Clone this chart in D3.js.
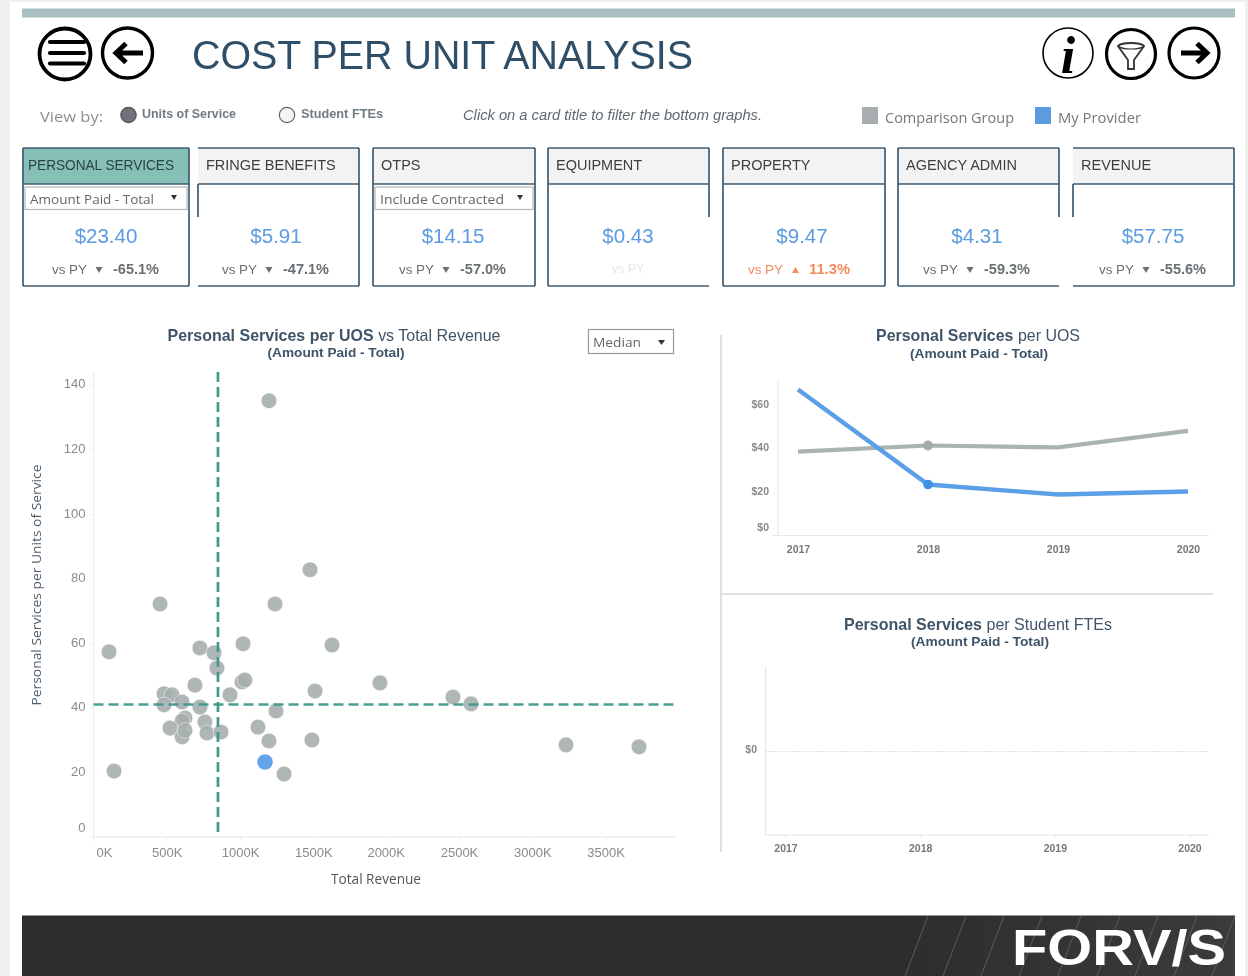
<!DOCTYPE html>
<html><head><meta charset="utf-8">
<script src="https://cdn.jsdelivr.net/npm/d3@7"></script>
<style>
html,body{margin:0;padding:0;background:#fff;overflow:hidden}
svg{display:block;filter:blur(0.4px)}
text{font-family:"Liberation Sans",Arial,sans-serif}
.axis path{display:none}
</style></head><body>
<svg id="c" width="1248" height="976"></svg>
<script>
const cardNames=["PERSONAL SERVICES","FRINGE BENEFITS","OTPS","EQUIPMENT","PROPERTY","AGENCY ADMIN","REVENUE"];
const cardValues=["$23.40","$5.91","$14.15","$0.43","$9.47","$4.31","$57.75"];
const cardChanges=[-65.1,-47.1,-57.0,null,11.3,-59.3,-55.6];
const cardFilters=["Amount Paid - Total",null,"Include Contracted",null,null,null,null];

const scatterRevenue=[1197,1477,1238,454,106,726,822,842,1020,1627,692,481,535,604,481,726,624,604,522,604,624,760,774,870,931,1013,1033,1511,1954,2452,2575,1245,1122,1197,1490,3223,3721,140,1300];
const scatterCost=[135,82.7,72.1,72.1,57.3,58.5,57,52.3,59.8,59.4,47,44.3,44,41.8,40.9,40.2,36.8,35.9,33.7,31,33,35.6,32.2,32.5,44,48,48.6,45.2,47.7,43.3,41.2,39,34,29.7,30,28.5,27.9,20.4,19.5];
const myRevenue=1170, myCost=23.2;
const medianRevenue=849, medianCost=41;
const revenueTicks=[0,500,1000,1500,2000,2500,3000,3500];
const costTicks=[0,20,40,60,80,100,120,140];

const years=[2017,2018,2019,2020];
const uosProvider=[67,23.4,18.8,20.2];
const uosGroup=[38.5,41.3,40.4,48];
const uosTicks=[0,20,40,60];

const navy="#2f4f68", border="#3f5b72", blue="#5b9be0", teal="#3f9a8c", tick="#8a8a8a", heading="#3f5468";
const svg=d3.select("#c");

// page frame
svg.append("rect").attr("width",1248).attr("height",976).attr("fill","#eef0f0");
svg.append("rect").attr("x",10).attr("y",2).attr("width",1235).attr("height",974).attr("fill","#fff");
svg.append("rect").attr("x",22).attr("y",8.5).attr("width",1213).attr("height",9).attr("fill","#a9bfc1");

const T=(g,x,y,s,o={})=>g.append("text").attr("x",x).attr("y",y).text(s)
  .attr("font-size",o.size||12).attr("fill",o.fill||"#555").attr("text-anchor",o.anchor||"start")
  .attr("font-weight",o.weight||null).attr("font-style",o.italic?"italic":null)
  .style("font-family",o.family||null);

T(svg,192,68.5,"COST PER UNIT ANALYSIS",{size:41,fill:navy}).attr("textLength",501);

// icons
function ring(x,y,r,w){svg.append("circle").attr("cx",x).attr("cy",y).attr("r",r).attr("fill","#fff").attr("stroke","#000").attr("stroke-width",w);}
ring(65,54,25.5,3.8);
[42,53,63.5].forEach(y=>svg.append("line").attr("x1",50).attr("x2",84).attr("y1",y).attr("y2",y).attr("stroke","#000").attr("stroke-width",4.2).attr("stroke-linecap","round"));
ring(127.5,53,25,3.4);
svg.append("path").attr("d","M143 53H116M126 43.5L116 53L126 62.5").attr("fill","none").attr("stroke","#000").attr("stroke-width",5);
ring(1068,53,25,1.6);
T(svg,1068,73,"i",{size:52,anchor:"middle",fill:"#000",weight:"bold",italic:true,family:"'Liberation Serif',serif"});
ring(1131,54,24.5,3.2);
svg.append("path").attr("d","M1118 46C1122 42 1140 42 1144 46L1134 60V69H1128V60Z").attr("fill","none").attr("stroke","#333").attr("stroke-width",1.8);
svg.append("path").attr("d","M1118 46C1122 50 1140 50 1144 46").attr("fill","none").attr("stroke","#333").attr("stroke-width",1.2);
ring(1194,53,25,3.2);
svg.append("path").attr("d","M1181 53H1207M1197 43.5L1207 53L1197 62.5").attr("fill","none").attr("stroke","#000").attr("stroke-width",5);

// view by row
T(svg,40,122,"View by:",{size:14.5,fill:"#8a8f92",family:"'Open Sans',sans-serif"}).attr("textLength",63);
svg.append("circle").attr("cx",128.5).attr("cy",115).attr("r",7.7).attr("fill","#6f7278").attr("stroke","#555").attr("stroke-width",1.2);
T(svg,142,118,"Units of Service",{size:12.5,fill:"#6f7c84",weight:"bold"}).attr("textLength",94);
svg.append("circle").attr("cx",287).attr("cy",115).attr("r",7.7).attr("fill","#f4f4f4").attr("stroke","#666").attr("stroke-width",1.2);
T(svg,301,118,"Student FTEs",{size:12.5,fill:"#6f7c84",weight:"bold"}).attr("textLength",82);
T(svg,463,120,"Click on a card title to filter the bottom graphs.",{size:14.2,fill:"#5f6a70",italic:true}).attr("textLength",299);
svg.append("rect").attr("x",862).attr("y",107).attr("width",16).attr("height",17).attr("fill","#a8adaf");
T(svg,885,123,"Comparison Group",{size:14,fill:"#777",family:"'Open Sans',sans-serif"}).attr("textLength",129);
svg.append("rect").attr("x",1035).attr("y",107).attr("width",16).attr("height",17).attr("fill","#5b9be0");
T(svg,1058,123,"My Provider",{size:14,fill:"#777",family:"'Open Sans',sans-serif"}).attr("textLength",83);

// cards
const cardLeft=[23,198,373,548,723,898,1073], cardRight=[189,359,535,709,885,1059,1234];
const cardCenter=[106,276,453,628,802,977,1153];
const cardEdges=[["full","full"],["none","full"],["full","full"],["full","short"],["full","full"],["full","short"],["none","full"]];
const cTop=148,head=184,bot=286,shortY=217;
cardNames.forEach((n,i)=>{
  const g=svg.append("g"),l=cardLeft[i],r=cardRight[i],ax=cardCenter[i];
  g.append("rect").attr("x",l).attr("y",cTop).attr("width",r-l).attr("height",head-cTop).attr("fill",i==0?"#85bfb5":"#f3f3f3");
  const ln=(a,b,c,d)=>g.append("line").attr("x1",a).attr("y1",b).attr("x2",c).attr("y2",d).attr("stroke",border).attr("stroke-width",1.7);
  ln(l,cTop,r,cTop);ln(l,head,r,head);ln(l,bot,r,bot);
  if(cardEdges[i][0]=="full")ln(l,cTop,l,bot);else ln(l,head,l,shortY);
  if(cardEdges[i][1]=="full")ln(r,cTop,r,bot);else ln(r,cTop,r,shortY);
  T(g,l+(i==0?5:8),170,n,{size:i==0?14:14.5,fill:i==0?"#2a4446":"#3f3f3f"}).attr("textLength",i==0?146:null);
  if(cardFilters[i]){
    g.append("rect").attr("x",l+2).attr("y",187).attr("width",r-l-4).attr("height",22.5).attr("fill","#fff").attr("stroke","#b5b5b5").attr("stroke-width",1.2);
    T(g,l+7,204,cardFilters[i],{size:13.5,fill:"#666",family:"'Open Sans',sans-serif"}).attr("textLength",124);
    g.append("path").attr("d",`M${r-18} 195h6l-3 5z`).attr("fill","#333");
  }
  T(g,ax,243,cardValues[i],{size:20.5,fill:blue,anchor:"middle"});
  const c=cardChanges[i],col=c==null?"#e4e8ea":c>0?"#f58a5e":"#6a7073";
  if(c==null){T(g,ax,273,"vs PY",{size:12.5,fill:col,anchor:"middle"});}
  else{
    T(g,ax-54,274,"vs PY",{size:13,fill:col}).attr("textLength",35);
    const up=c>0,tx=ax-7;
    g.append("path").attr("d",up?`M${tx-3} 273h7l-3.5 -6z`:`M${tx-3.5} 267h7l-3.5 6z`).attr("fill",col);
    T(g,ax+7,274,c.toFixed(1)+"%",{size:14,fill:col,weight:"bold"}).attr("textLength",up?41:46);
  }
});

// mixed-weight chart headings
function heading2(g,x,y,parts,len){
  const t=g.append("text").attr("x",x).attr("y",y).attr("text-anchor","middle").attr("font-size",16.5).attr("fill",heading).attr("textLength",len);
  parts.forEach(p=>t.append("tspan").attr("font-weight",p[1]?"bold":"normal").text(p[0]));
  return t;
}

// scatter
const sx=d3.scaleLinear().domain([0,3970]).range([93.5,675.5]);
const sy=d3.scaleLinear().domain([0,143.6]).range([837,373]);
const sc=svg.append("g");
heading2(sc,334,341,[["Personal Services per UOS ",1],["vs Total Revenue",0]],333);
T(sc,336,356.5,"(Amount Paid - Total)",{size:13,fill:heading,anchor:"middle",weight:"bold"}).attr("textLength",137);
sc.append("rect").attr("x",588.5).attr("y",329.5).attr("width",85).attr("height",24).attr("fill","#fff").attr("stroke","#9a9a9a").attr("stroke-width",1.2);
T(sc,593,347,"Median",{size:13.5,fill:"#666",family:"'Open Sans',sans-serif"}).attr("textLength",48);
sc.append("path").attr("d","M658 340h7l-3.5 5z").attr("fill","#333");

const gx=sc.append("g").attr("class","axis").attr("transform","translate(0,837)")
 .call(d3.axisBottom(sx).tickValues(revenueTicks).tickSize(4).tickFormat(d=>d+"K"));
gx.selectAll("line").attr("stroke","#eee");
gx.selectAll("text").attr("font-size",13).attr("fill",tick).attr("y",11).attr("dy","0.71em").attr("dx",d=>d==0?10.5:d>=2000?-1:0);
const gy=sc.append("g").attr("class","axis").attr("transform","translate(93.5,0)")
 .call(d3.axisLeft(sy).tickValues(costTicks).tickSize(4).tickFormat(d=>d));
gy.selectAll("line").attr("stroke","#eee");
gy.selectAll("text").attr("font-size",13).attr("fill",tick).attr("x",-8).attr("dy",d=>d==0?"-0.43em":"0.24em");
sc.append("line").attr("x1",93.5).attr("x2",675.5).attr("y1",837).attr("y2",837).attr("stroke","#eeeeee").attr("stroke-width",1.4);
sc.append("line").attr("x1",93.5).attr("x2",93.5).attr("y1",373).attr("y2",837).attr("stroke","#eeeeee").attr("stroke-width",1.4);
T(sc,376,884,"Total Revenue",{size:14,fill:"#555",anchor:"middle",family:"'Open Sans',sans-serif"}).attr("textLength",90);
sc.append("text").attr("transform","translate(41,585) rotate(-90)").attr("text-anchor","middle").attr("font-size",13.5).attr("fill","#4e5e6c")
  .style("font-family","'Open Sans',sans-serif").attr("textLength",241).text("Personal Services per Units of Service");

sc.selectAll("circle.p").data(scatterRevenue).join("circle").attr("class","p")
 .attr("cx",d=>sx(d)).attr("cy",(d,i)=>sy(scatterCost[i])).attr("r",7.8)
 .attr("fill","#a6aeae").attr("fill-opacity",.9).attr("stroke","#fff").attr("stroke-opacity",.6).attr("stroke-width",.8);
sc.append("circle").attr("cx",sx(myRevenue)).attr("cy",sy(myCost)).attr("r",7.8).attr("fill","#64a4ea");
sc.append("line").attr("x1",sx(medianRevenue)).attr("x2",sx(medianRevenue)).attr("y1",372).attr("y2",837)
 .attr("stroke",teal).attr("stroke-width",2.7).attr("stroke-dasharray","10 5");
sc.append("line").attr("x1",93.5).attr("x2",676).attr("y1",sy(medianCost)).attr("y2",sy(medianCost))
 .attr("stroke",teal).attr("stroke-width",2.7).attr("stroke-dasharray","10 5").attr("opacity",.95);

// separators
svg.append("line").attr("x1",721).attr("x2",721).attr("y1",335).attr("y2",852).attr("stroke","#b9c4cd").attr("stroke-width",1);
svg.append("line").attr("x1",721).attr("x2",1213).attr("y1",594).attr("y2",594).attr("stroke","#b9c4cd").attr("stroke-width",1);

// UOS line chart
const lc=svg.append("g");
heading2(lc,978,341,[["Personal Services ",1],["per UOS",0]],204);
T(lc,979,357.5,"(Amount Paid - Total)",{size:13,fill:heading,anchor:"middle",weight:"bold"}).attr("textLength",138);
const lx=d3.scalePoint().domain(years).range([798,1188]);
const ly=d3.scaleLinear().domain([0,70.2]).range([535.5,382.5]);
const lax=lc.append("g").attr("class","axis").attr("transform","translate(0,535.5)")
 .call(d3.axisBottom(lx).tickSize(0).tickFormat(d=>d));
lax.selectAll("text").attr("font-size",10.5).attr("font-weight","bold").attr("fill","#777").attr("y",10).attr("dy","0.71em");
const lay=lc.append("g").attr("class","axis").attr("transform","translate(778,0)")
 .call(d3.axisLeft(ly).tickValues(uosTicks).tickSize(0).tickFormat(d=>"$"+d));
lay.selectAll("text").attr("font-size",10.5).attr("font-weight","bold").attr("fill","#888").attr("x",-9).attr("dy",d=>d==0?"-0.45em":"0.22em");
lc.append("line").attr("x1",772).attr("x2",1209).attr("y1",535.5).attr("y2",535.5).attr("stroke","#eaeaea").attr("stroke-width",1.2);
lc.append("line").attr("x1",778).attr("x2",778).attr("y1",380).attr("y2",535.5).attr("stroke","#eaeaea").attr("stroke-width",1.2);
const line=d3.line().x((d,i)=>lx(years[i])).y(d=>ly(d));
lc.append("path").datum(uosGroup).attr("d",line).attr("fill","none").attr("stroke","#abb2b2").attr("stroke-width",4.2);
lc.append("path").datum(uosProvider).attr("d",line).attr("fill","none").attr("stroke","#5b9fe6").attr("stroke-width",4.4);
lc.append("circle").attr("cx",lx(2018)).attr("cy",ly(uosGroup[1])).attr("r",5).attr("fill","#a3abab");
lc.append("circle").attr("cx",lx(2018)).attr("cy",ly(uosProvider[1])).attr("r",4.8).attr("fill","#3f8fe2");

// FTE empty chart
const fc=svg.append("g");
heading2(fc,978,630,[["Personal Services ",1],["per Student FTEs",0]],268);
T(fc,980,645.5,"(Amount Paid - Total)",{size:13,fill:heading,anchor:"middle",weight:"bold"}).attr("textLength",138);
const fx=d3.scalePoint().domain(years).range([785.5,1189.5]);
const fax=fc.append("g").attr("class","axis").attr("transform","translate(0,835)")
 .call(d3.axisBottom(fx).tickSize(3).tickFormat(d=>d));
fax.selectAll("line").attr("stroke","#e6e6e6");
fax.selectAll("text").attr("font-size",10.5).attr("font-weight","bold").attr("fill","#777").attr("y",9.5).attr("dy","0.71em");
fc.append("line").attr("x1",765.5).attr("x2",1209.5).attr("y1",835).attr("y2",835).attr("stroke","#e6e6e6").attr("stroke-width",1.2);
fc.append("line").attr("x1",765.5).attr("x2",765.5).attr("y1",666).attr("y2",835).attr("stroke","#e6e6e6").attr("stroke-width",1.2);
fc.append("line").attr("x1",765.5).attr("x2",1209.5).attr("y1",751.5).attr("y2",751.5).attr("stroke","#c4c4c4").attr("stroke-dasharray","1 2");
T(fc,757,753,"$0",{size:10.5,fill:"#888",anchor:"end",weight:"bold"});

// footer
const ft=svg.append("g");
ft.append("rect").attr("x",22).attr("y",915.5).attr("width",1213).attr("height",61).attr("fill","#2c2d2e");
svg.append("defs").append("linearGradient").attr("id","fg").selectAll("stop").data([[0,"#2c2d2e"],[1,"#3a3b3d"]]).join("stop").attr("offset",d=>d[0]).attr("stop-color",d=>d[1]);
ft.append("rect").attr("x",900).attr("y",916).attr("width",335).attr("height",60).attr("fill","url(#fg)");
[905,943,981,1019,1058,1097,1135,1174,1212].forEach(x=>ft.append("line").attr("x1",x).attr("y1",976).attr("x2",x+23).attr("y2",916).attr("stroke","#5a5c5e").attr("stroke-width",1));
T(ft,1012,965,"FORV/S",{size:50,fill:"#fff",weight:"bold"}).attr("textLength",214);

svg.selectAll("text[textLength]").attr("lengthAdjust","spacingAndGlyphs");
</script>
</body></html>
